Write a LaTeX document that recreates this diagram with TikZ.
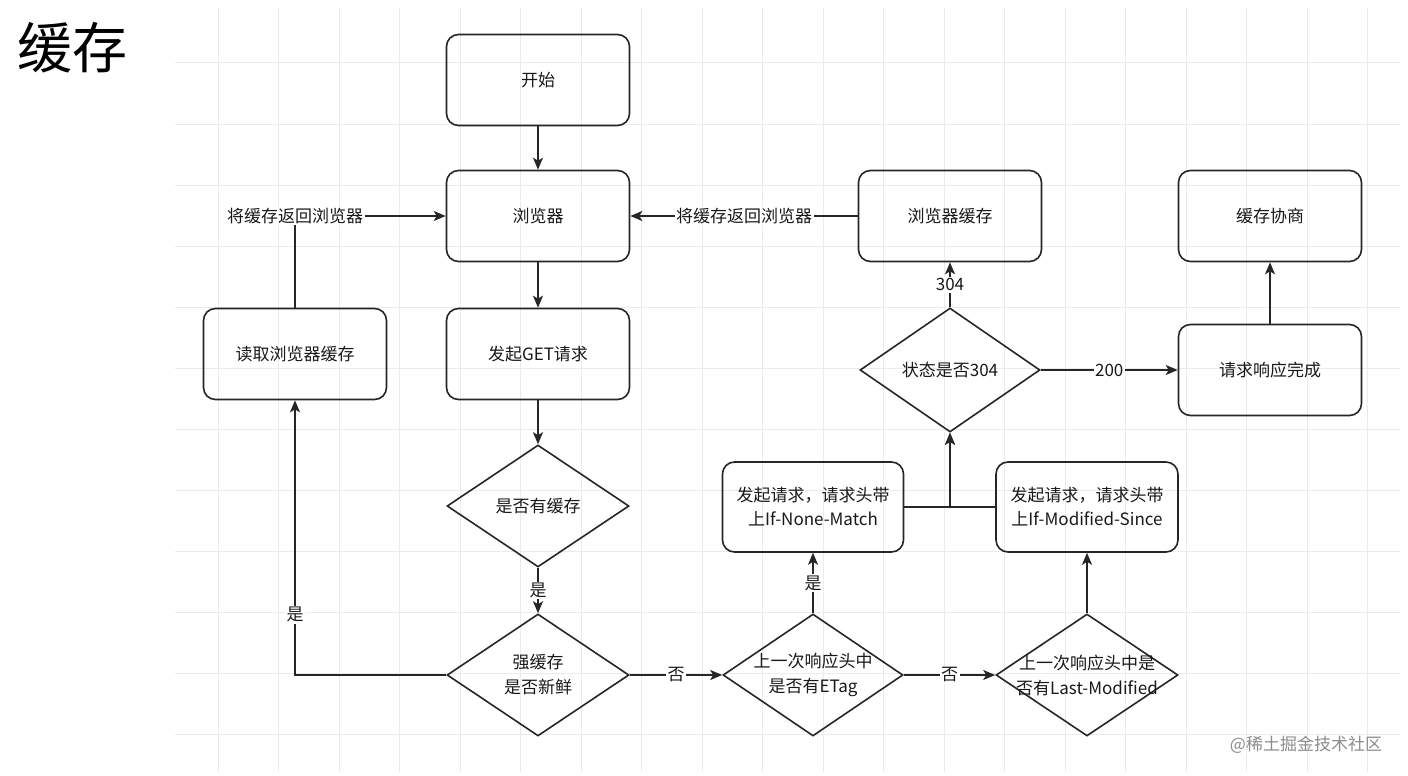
\documentclass[tikz,border=0pt]{standalone}
\usepackage{fontspec}
\setmainfont{Noto Sans CJK SC}
\usetikzlibrary{shapes.geometric,arrows.meta}
\tikzset{
  box/.style={rectangle, rounded corners=12pt, draw=black!85, line width=1.6pt,
    minimum width=183pt, minimum height=91pt, align=center, text=black!90,
    font=\fontsize{17}{24}\selectfont},
  dia/.style={diamond, draw=black!85, line width=1.6pt, minimum width=182pt,
    minimum height=122pt, inner sep=0pt},
  dtext/.style={align=center, text=black!90, font=\fontsize{17}{25}\selectfont},
  edge/.style={draw=black!85, line width=1.6pt, -{Stealth[length=12pt,width=10pt,inset=3pt]}},
  plain/.style={draw=black!85, line width=1.6pt},
  lbl/.style={fill=white, inner sep=1.5pt, text=black!90, font=\fontsize{17}{20}\selectfont},
  gridline/.style={draw=black!8, line width=1pt}
}
\begin{document}
\begin{tikzpicture}[x=1pt,y=-1pt]
\useasboundingbox (0,0) rectangle (1408,776);
\fill[white] (0,0) rectangle (1408,776);
% grid
\foreach \k in {0,...,11} {\draw[gridline] (175,{63+61*\k}) -- (1400,{63+61*\k});}
\foreach \k in {0,...,19} {\draw[gridline] ({218+60.5*\k},8) -- ({218+60.5*\k},772);}
% title
\node (title) at (72,48) {\fontsize{55}{60}\selectfont 缓存};
% boxes
\node[box] (start) at (538,80) {开始};
\node[box] (browser) at (538,216) {浏览器};
\node[box] (get) at (538,354) {发起GET请求};
\node[box] (read) at (295,354) {读取浏览器缓存};
\node[box] (bcache) at (950,216) {浏览器缓存};
\node[box] (nego) at (1270,216) {缓存协商};
\node[box] (done) at (1270,370) {请求响应完成};
\node[box, minimum width=181pt, minimum height=90pt] (inm) at (813,507) {发起请求，请求头带\\上If-None-Match};
\node[box, minimum width=182pt, minimum height=90pt] (ims) at (1087,507) {发起请求，请求头带\\上If-Modified-Since};
% diamonds
\node[dia, minimum width=180pt, minimum height=124pt] (status) at (950,370) {};
\node[dtext] at (status.center) {状态是否304};
\node[dia] (hascache) at (538,506) {};
\node[dtext] at (hascache.center) {是否有缓存};
\node[dia] (fresh) at (538,675) {};
\node[dtext] at (fresh.center) {强缓存\\是否新鲜};
\node[dia, minimum width=180pt] (etag) at (813,675) {};
\node[dtext] at (etag.center) {上一次响应头中\\是否有ETag};
\node[dia] (lastmod) at (1087,675) {};
\node[dtext] at (lastmod.center) {上一次响应头中是\\否有Last-Modified};
% watermark
\node[text=black!45, font=\fontsize{17}{20}\selectfont] (wm) at (1306,745) {@稀土掘金技术社区};
% edges
\draw[edge] (start) -- (browser);
\draw[edge] (browser) -- (get);
\draw[edge] (get) -- (hascache.north);
\draw[edge] (hascache.south) -- node[lbl]{是} (fresh.north);
\draw[edge] (fresh.west) -| node[lbl, pos=0.61]{是} (read.south);
\draw[edge] (read.north) |- node[lbl]{将缓存返回浏览器} (browser.west);
\draw[edge] (fresh.east) -- node[lbl]{否} (etag.west);
\draw[edge] (etag.east) -- node[lbl]{否} (lastmod.west);
\draw[edge] (etag.north) -- node[lbl]{是} (inm.south);
\draw[edge] (lastmod.north) -- (ims.south);
\draw[edge] (inm.east) -| (status.south);
\draw[edge] (ims.west) -| (status.south);
\draw[edge] (status.north) -- node[lbl]{304} (bcache.south);
\draw[edge] (bcache.west) -- node[lbl]{将缓存返回浏览器} (browser.east);
\draw[edge] (status.east) -- node[lbl]{200} (done.west);
\draw[edge] (done.north) -- (nego.south);
\end{tikzpicture}
\end{document}
